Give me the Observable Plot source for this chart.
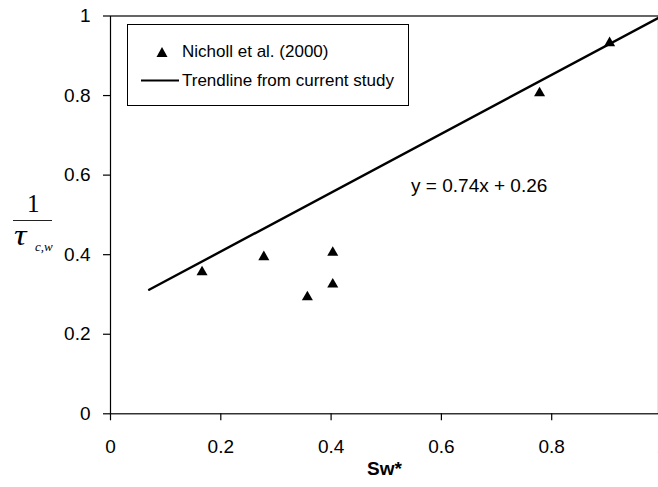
<!DOCTYPE html>
<html>
<head>
<meta charset="utf-8">
<script src="https://cdn.jsdelivr.net/npm/d3@7"></script>
<script src="https://cdn.jsdelivr.net/npm/@observablehq/plot@0.6"></script>
<style>
  html, body { margin: 0; padding: 0; background: #fff; overflow: hidden; }
  #chart { position: relative; width: 658px; height: 487px; overflow: hidden; }
  #chart svg { display: block; max-width: none; }
  .legend {
    position: absolute; left: 127px; top: 24px; width: 280px; height: 80px;
    border: 1px solid #000; background: #fff;
    font-family: "Liberation Sans", Arial, sans-serif; font-size: 17px; color: #000;
  }
  .legend .lbl { position: absolute; left: 54px; transform: translateY(-50%); white-space: nowrap; }
  .legend svg { position: absolute; overflow: visible; }
  .ylabel { position: absolute; left: 0; top: 0; font-family: "Liberation Serif", "Times New Roman", serif; color: #000; }
  .ylabel .num { position: absolute; left: 27px; top: 191px; font-size: 25px; line-height: 25px; }
  .ylabel .bar { position: absolute; left: 13px; top: 220px; width: 39px; height: 1.3px; background: #222; }
  .ylabel .tau { position: absolute; left: 14px; top: 221px; font-size: 29px; line-height: 29px; font-style: italic;
                 display: inline-block; transform: scaleX(1.2); transform-origin: left center; }
  .ylabel .sub { position: absolute; left: 35px; top: 240px; font-size: 13px; line-height: 13px; font-style: italic; }
</style>
</head>
<body>
<div id="chart"></div>
<script>
// Nicholl et al. (2000) measurements: normalised water saturation vs 1/tau(c,w)
const sw = [0.166, 0.278, 0.357, 0.403, 0.403, 0.778, 0.905];
const invTau = [0.36, 0.398, 0.297, 0.329, 0.409, 0.81, 0.936];

// Trendline fitted in the current study
const slope = 0.74;
const intercept = 0.26;
const trendSw = [0.07, 1.0];

// Axis ticks and their labels
const xTicks = [0, 0.2, 0.4, 0.6, 0.8, 1];
const xTickLabels = ["0", "0.2", "0.4", "0.6", "0.8", "1"];
const yTicks = [0, 0.2, 0.4, 0.6, 0.8, 1];
const yTickLabels = ["0", "0.2", "0.4", "0.6", "0.8", "1"];

// Where the fitted equation is written (data units)
const equationAt = { x: 0.545, y: 0.574 };

const points = sw.map((s, i) => ({ sw: s, inv: invTau[i] }));
const trend = trendSw.map(s => ({ sw: s, inv: slope * s + intercept }));
const equation = `y = ${slope}x + ${intercept}`;

const chart = Plot.plot({
  width: 658,
  height: 487,
  marginLeft: 110,
  marginTop: 15.5,
  marginBottom: 73.7,
  marginRight: 0,
  style: {
    fontFamily: "'Liberation Sans', Arial, sans-serif",
    fontSize: "19px",
    color: "#000",
    background: "#fff",
    overflow: "visible"
  },
  // the plot area runs a few pixels past the right edge of the page
  x: { domain: [0, 1], range: [110, 661.5], label: null },
  y: { domain: [0, 1], range: [413.3, 15.5], label: null },
  marks: [
    Plot.frame({ stroke: "#000", strokeWidth: 1.2 }),
    Plot.axisX({ ticks: xTicks, tickFormat: (d, i) => xTickLabels[i], tickSize: 7, tickPadding: 19, label: null, stroke: "#000", strokeWidth: 1.2 }),
    Plot.axisY({ ticks: yTicks, tickFormat: (d, i) => yTickLabels[i], tickSize: 7, tickPadding: 13, label: null, stroke: "#000", strokeWidth: 1.2 }),
    Plot.line(trend, { x: "sw", y: "inv", stroke: "#000", strokeWidth: 2.4 }),
    Plot.dot(points, { x: "sw", y: "inv", symbol: "triangle", r: 4.1, fill: "#000", stroke: "none", dy: 1.5 }),
    Plot.text([equationAt], { x: "x", y: "y", text: () => equation, textAnchor: "start", lineAnchor: "middle", fontSize: 19, fill: "#000" }),
    Plot.text(["Sw*"], { frameAnchor: "bottom", dy: 55, lineAnchor: "middle", fontWeight: "bold", fontSize: 19, fill: "#000" })
  ]
});

const root = document.getElementById("chart");
root.appendChild(chart);

// Vertical axis title: 1 / tau_(c,w)
const ylab = document.createElement("div");
ylab.className = "ylabel";
ylab.innerHTML = `<span class="num">1</span><div class="bar"></div><span class="tau">τ</span><span class="sub">c,w</span>`;
root.appendChild(ylab);

// Legend box
const legend = document.createElement("div");
legend.className = "legend";
legend.innerHTML = `
  <svg style="left:28px;top:22px" width="12" height="12"><path d="M6,0 L11.5,10 L0.5,10 Z" fill="#000"/></svg>
  <span class="lbl" style="top:27px">Nicholl et al. (2000)</span>
  <svg style="left:13px;top:54px" width="40" height="4"><line x1="0" x2="38" y1="1.5" y2="1.5" stroke="#000" stroke-width="2.2"/></svg>
  <span class="lbl" style="top:56px">Trendline from current study</span>`;
root.appendChild(legend);
</script>
</body>
</html>
